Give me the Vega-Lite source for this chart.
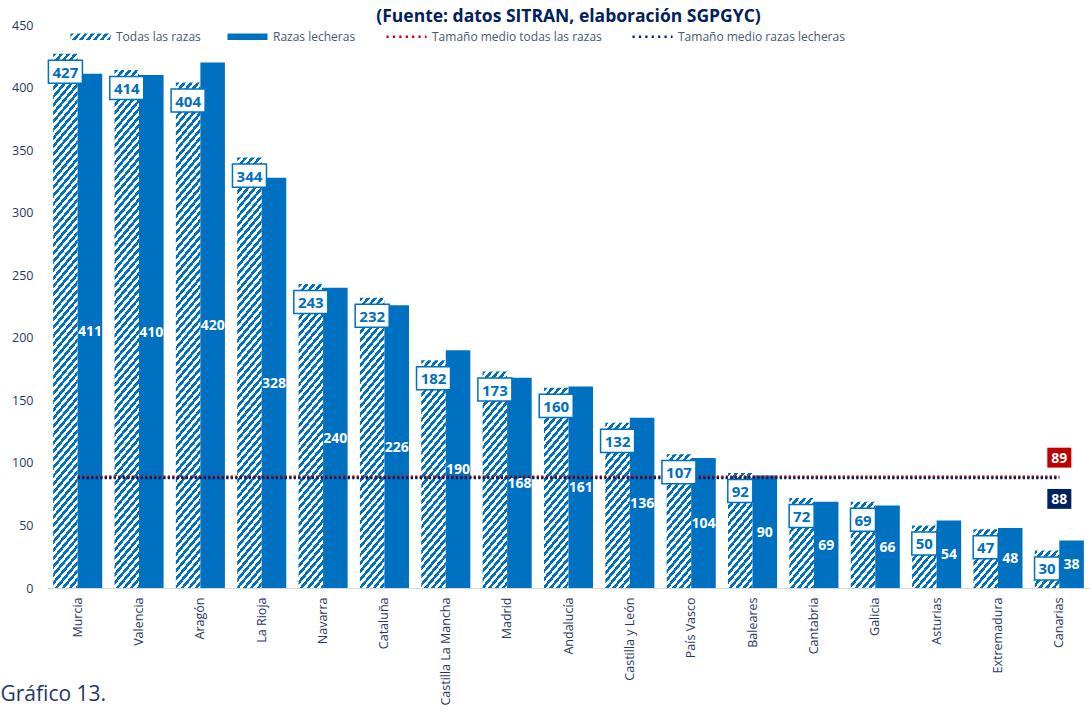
{
"$schema": "https://vega.github.io/schema/vega-lite/v6.json",
"width": 1043,
"height": 563,
"autosize": {"type": "none"},
"padding": {"left": 47, "top": 25, "right": 0, "bottom": 123},
"background": "white",
"config": {"view": {"stroke": null}, "font": "Open Sans", "axis": {"grid": false}},
"title": {"text": "(Fuente: datos SITRAN, elaboración SGPGYC)", "fontSize": 17.5, "fontWeight": "bold", "color": "#002060", "anchor": "middle", "frame": "group", "offset": -10},
"params": [{"name": "hatchStops", "value": [
{"offset":0,"color":"#0070C0"},
{"offset":0.00625,"color":"#0070C0"},{"offset":0.00625,"color":"#fff"},{"offset":0.0125,"color":"#fff"},{"offset":0.0125,"color":"#0070C0"},{"offset":0.01875,"color":"#0070C0"},{"offset":0.01875,"color":"#fff"},{"offset":0.025,"color":"#fff"},{"offset":0.025,"color":"#0070C0"},{"offset":0.03125,"color":"#0070C0"},{"offset":0.03125,"color":"#fff"},{"offset":0.0375,"color":"#fff"},{"offset":0.0375,"color":"#0070C0"},{"offset":0.04375,"color":"#0070C0"},{"offset":0.04375,"color":"#fff"},{"offset":0.05,"color":"#fff"},{"offset":0.05,"color":"#0070C0"},{"offset":0.05625,"color":"#0070C0"},{"offset":0.05625,"color":"#fff"},{"offset":0.0625,"color":"#fff"},{"offset":0.0625,"color":"#0070C0"},{"offset":0.06875,"color":"#0070C0"},{"offset":0.06875,"color":"#fff"},{"offset":0.075,"color":"#fff"},{"offset":0.075,"color":"#0070C0"},{"offset":0.08125,"color":"#0070C0"},{"offset":0.08125,"color":"#fff"},{"offset":0.0875,"color":"#fff"},{"offset":0.0875,"color":"#0070C0"},{"offset":0.09375,"color":"#0070C0"},{"offset":0.09375,"color":"#fff"},{"offset":0.1,"color":"#fff"},{"offset":0.1,"color":"#0070C0"},
{"offset":0.10625,"color":"#0070C0"},{"offset":0.10625,"color":"#fff"},{"offset":0.1125,"color":"#fff"},{"offset":0.1125,"color":"#0070C0"},{"offset":0.11875,"color":"#0070C0"},{"offset":0.11875,"color":"#fff"},{"offset":0.125,"color":"#fff"},{"offset":0.125,"color":"#0070C0"},{"offset":0.13125,"color":"#0070C0"},{"offset":0.13125,"color":"#fff"},{"offset":0.1375,"color":"#fff"},{"offset":0.1375,"color":"#0070C0"},{"offset":0.14375,"color":"#0070C0"},{"offset":0.14375,"color":"#fff"},{"offset":0.15,"color":"#fff"},{"offset":0.15,"color":"#0070C0"},{"offset":0.15625,"color":"#0070C0"},{"offset":0.15625,"color":"#fff"},{"offset":0.1625,"color":"#fff"},{"offset":0.1625,"color":"#0070C0"},{"offset":0.16875,"color":"#0070C0"},{"offset":0.16875,"color":"#fff"},{"offset":0.175,"color":"#fff"},{"offset":0.175,"color":"#0070C0"},{"offset":0.18125,"color":"#0070C0"},{"offset":0.18125,"color":"#fff"},{"offset":0.1875,"color":"#fff"},{"offset":0.1875,"color":"#0070C0"},{"offset":0.19375,"color":"#0070C0"},{"offset":0.19375,"color":"#fff"},{"offset":0.2,"color":"#fff"},{"offset":0.2,"color":"#0070C0"},
{"offset":0.20625,"color":"#0070C0"},{"offset":0.20625,"color":"#fff"},{"offset":0.2125,"color":"#fff"},{"offset":0.2125,"color":"#0070C0"},{"offset":0.21875,"color":"#0070C0"},{"offset":0.21875,"color":"#fff"},{"offset":0.225,"color":"#fff"},{"offset":0.225,"color":"#0070C0"},{"offset":0.23125,"color":"#0070C0"},{"offset":0.23125,"color":"#fff"},{"offset":0.2375,"color":"#fff"},{"offset":0.2375,"color":"#0070C0"},{"offset":0.24375,"color":"#0070C0"},{"offset":0.24375,"color":"#fff"},{"offset":0.25,"color":"#fff"},{"offset":0.25,"color":"#0070C0"},{"offset":0.25625,"color":"#0070C0"},{"offset":0.25625,"color":"#fff"},{"offset":0.2625,"color":"#fff"},{"offset":0.2625,"color":"#0070C0"},{"offset":0.26875,"color":"#0070C0"},{"offset":0.26875,"color":"#fff"},{"offset":0.275,"color":"#fff"},{"offset":0.275,"color":"#0070C0"},{"offset":0.28125,"color":"#0070C0"},{"offset":0.28125,"color":"#fff"},{"offset":0.2875,"color":"#fff"},{"offset":0.2875,"color":"#0070C0"},{"offset":0.29375,"color":"#0070C0"},{"offset":0.29375,"color":"#fff"},{"offset":0.3,"color":"#fff"},{"offset":0.3,"color":"#0070C0"},
{"offset":0.30625,"color":"#0070C0"},{"offset":0.30625,"color":"#fff"},{"offset":0.3125,"color":"#fff"},{"offset":0.3125,"color":"#0070C0"},{"offset":0.31875,"color":"#0070C0"},{"offset":0.31875,"color":"#fff"},{"offset":0.325,"color":"#fff"},{"offset":0.325,"color":"#0070C0"},{"offset":0.33125,"color":"#0070C0"},{"offset":0.33125,"color":"#fff"},{"offset":0.3375,"color":"#fff"},{"offset":0.3375,"color":"#0070C0"},{"offset":0.34375,"color":"#0070C0"},{"offset":0.34375,"color":"#fff"},{"offset":0.35,"color":"#fff"},{"offset":0.35,"color":"#0070C0"},{"offset":0.35625,"color":"#0070C0"},{"offset":0.35625,"color":"#fff"},{"offset":0.3625,"color":"#fff"},{"offset":0.3625,"color":"#0070C0"},{"offset":0.36875,"color":"#0070C0"},{"offset":0.36875,"color":"#fff"},{"offset":0.375,"color":"#fff"},{"offset":0.375,"color":"#0070C0"},{"offset":0.38125,"color":"#0070C0"},{"offset":0.38125,"color":"#fff"},{"offset":0.3875,"color":"#fff"},{"offset":0.3875,"color":"#0070C0"},{"offset":0.39375,"color":"#0070C0"},{"offset":0.39375,"color":"#fff"},{"offset":0.4,"color":"#fff"},{"offset":0.4,"color":"#0070C0"},
{"offset":0.40625,"color":"#0070C0"},{"offset":0.40625,"color":"#fff"},{"offset":0.4125,"color":"#fff"},{"offset":0.4125,"color":"#0070C0"},{"offset":0.41875,"color":"#0070C0"},{"offset":0.41875,"color":"#fff"},{"offset":0.425,"color":"#fff"},{"offset":0.425,"color":"#0070C0"},{"offset":0.43125,"color":"#0070C0"},{"offset":0.43125,"color":"#fff"},{"offset":0.4375,"color":"#fff"},{"offset":0.4375,"color":"#0070C0"},{"offset":0.44375,"color":"#0070C0"},{"offset":0.44375,"color":"#fff"},{"offset":0.45,"color":"#fff"},{"offset":0.45,"color":"#0070C0"},{"offset":0.45625,"color":"#0070C0"},{"offset":0.45625,"color":"#fff"},{"offset":0.4625,"color":"#fff"},{"offset":0.4625,"color":"#0070C0"},{"offset":0.46875,"color":"#0070C0"},{"offset":0.46875,"color":"#fff"},{"offset":0.475,"color":"#fff"},{"offset":0.475,"color":"#0070C0"},{"offset":0.48125,"color":"#0070C0"},{"offset":0.48125,"color":"#fff"},{"offset":0.4875,"color":"#fff"},{"offset":0.4875,"color":"#0070C0"},{"offset":0.49375,"color":"#0070C0"},{"offset":0.49375,"color":"#fff"},{"offset":0.5,"color":"#fff"},{"offset":0.5,"color":"#0070C0"},
{"offset":0.50625,"color":"#0070C0"},{"offset":0.50625,"color":"#fff"},{"offset":0.5125,"color":"#fff"},{"offset":0.5125,"color":"#0070C0"},{"offset":0.51875,"color":"#0070C0"},{"offset":0.51875,"color":"#fff"},{"offset":0.525,"color":"#fff"},{"offset":0.525,"color":"#0070C0"},{"offset":0.53125,"color":"#0070C0"},{"offset":0.53125,"color":"#fff"},{"offset":0.5375,"color":"#fff"},{"offset":0.5375,"color":"#0070C0"},{"offset":0.54375,"color":"#0070C0"},{"offset":0.54375,"color":"#fff"},{"offset":0.55,"color":"#fff"},{"offset":0.55,"color":"#0070C0"},{"offset":0.55625,"color":"#0070C0"},{"offset":0.55625,"color":"#fff"},{"offset":0.5625,"color":"#fff"},{"offset":0.5625,"color":"#0070C0"},{"offset":0.56875,"color":"#0070C0"},{"offset":0.56875,"color":"#fff"},{"offset":0.575,"color":"#fff"},{"offset":0.575,"color":"#0070C0"},{"offset":0.58125,"color":"#0070C0"},{"offset":0.58125,"color":"#fff"},{"offset":0.5875,"color":"#fff"},{"offset":0.5875,"color":"#0070C0"},{"offset":0.59375,"color":"#0070C0"},{"offset":0.59375,"color":"#fff"},{"offset":0.6,"color":"#fff"},{"offset":0.6,"color":"#0070C0"},
{"offset":0.60625,"color":"#0070C0"},{"offset":0.60625,"color":"#fff"},{"offset":0.6125,"color":"#fff"},{"offset":0.6125,"color":"#0070C0"},{"offset":0.61875,"color":"#0070C0"},{"offset":0.61875,"color":"#fff"},{"offset":0.625,"color":"#fff"},{"offset":0.625,"color":"#0070C0"},{"offset":0.63125,"color":"#0070C0"},{"offset":0.63125,"color":"#fff"},{"offset":0.6375,"color":"#fff"},{"offset":0.6375,"color":"#0070C0"},{"offset":0.64375,"color":"#0070C0"},{"offset":0.64375,"color":"#fff"},{"offset":0.65,"color":"#fff"},{"offset":0.65,"color":"#0070C0"},{"offset":0.65625,"color":"#0070C0"},{"offset":0.65625,"color":"#fff"},{"offset":0.6625,"color":"#fff"},{"offset":0.6625,"color":"#0070C0"},{"offset":0.66875,"color":"#0070C0"},{"offset":0.66875,"color":"#fff"},{"offset":0.675,"color":"#fff"},{"offset":0.675,"color":"#0070C0"},{"offset":0.68125,"color":"#0070C0"},{"offset":0.68125,"color":"#fff"},{"offset":0.6875,"color":"#fff"},{"offset":0.6875,"color":"#0070C0"},{"offset":0.69375,"color":"#0070C0"},{"offset":0.69375,"color":"#fff"},{"offset":0.7,"color":"#fff"},{"offset":0.7,"color":"#0070C0"},
{"offset":0.70625,"color":"#0070C0"},{"offset":0.70625,"color":"#fff"},{"offset":0.7125,"color":"#fff"},{"offset":0.7125,"color":"#0070C0"},{"offset":0.71875,"color":"#0070C0"},{"offset":0.71875,"color":"#fff"},{"offset":0.725,"color":"#fff"},{"offset":0.725,"color":"#0070C0"},{"offset":0.73125,"color":"#0070C0"},{"offset":0.73125,"color":"#fff"},{"offset":0.7375,"color":"#fff"},{"offset":0.7375,"color":"#0070C0"},{"offset":0.74375,"color":"#0070C0"},{"offset":0.74375,"color":"#fff"},{"offset":0.75,"color":"#fff"},{"offset":0.75,"color":"#0070C0"},{"offset":0.75625,"color":"#0070C0"},{"offset":0.75625,"color":"#fff"},{"offset":0.7625,"color":"#fff"},{"offset":0.7625,"color":"#0070C0"},{"offset":0.76875,"color":"#0070C0"},{"offset":0.76875,"color":"#fff"},{"offset":0.775,"color":"#fff"},{"offset":0.775,"color":"#0070C0"},{"offset":0.78125,"color":"#0070C0"},{"offset":0.78125,"color":"#fff"},{"offset":0.7875,"color":"#fff"},{"offset":0.7875,"color":"#0070C0"},{"offset":0.79375,"color":"#0070C0"},{"offset":0.79375,"color":"#fff"},{"offset":0.8,"color":"#fff"},{"offset":0.8,"color":"#0070C0"},
{"offset":0.80625,"color":"#0070C0"},{"offset":0.80625,"color":"#fff"},{"offset":0.8125,"color":"#fff"},{"offset":0.8125,"color":"#0070C0"},{"offset":0.81875,"color":"#0070C0"},{"offset":0.81875,"color":"#fff"},{"offset":0.825,"color":"#fff"},{"offset":0.825,"color":"#0070C0"},{"offset":0.83125,"color":"#0070C0"},{"offset":0.83125,"color":"#fff"},{"offset":0.8375,"color":"#fff"},{"offset":0.8375,"color":"#0070C0"},{"offset":0.84375,"color":"#0070C0"},{"offset":0.84375,"color":"#fff"},{"offset":0.85,"color":"#fff"},{"offset":0.85,"color":"#0070C0"},{"offset":0.85625,"color":"#0070C0"},{"offset":0.85625,"color":"#fff"},{"offset":0.8625,"color":"#fff"},{"offset":0.8625,"color":"#0070C0"},{"offset":0.86875,"color":"#0070C0"},{"offset":0.86875,"color":"#fff"},{"offset":0.875,"color":"#fff"},{"offset":0.875,"color":"#0070C0"},{"offset":0.88125,"color":"#0070C0"},{"offset":0.88125,"color":"#fff"},{"offset":0.8875,"color":"#fff"},{"offset":0.8875,"color":"#0070C0"},{"offset":0.89375,"color":"#0070C0"},{"offset":0.89375,"color":"#fff"},{"offset":0.9,"color":"#fff"},{"offset":0.9,"color":"#0070C0"},
{"offset":0.90625,"color":"#0070C0"},{"offset":0.90625,"color":"#fff"},{"offset":0.9125,"color":"#fff"},{"offset":0.9125,"color":"#0070C0"},{"offset":0.91875,"color":"#0070C0"},{"offset":0.91875,"color":"#fff"},{"offset":0.925,"color":"#fff"},{"offset":0.925,"color":"#0070C0"},{"offset":0.93125,"color":"#0070C0"},{"offset":0.93125,"color":"#fff"},{"offset":0.9375,"color":"#fff"},{"offset":0.9375,"color":"#0070C0"},{"offset":0.94375,"color":"#0070C0"},{"offset":0.94375,"color":"#fff"},{"offset":0.95,"color":"#fff"},{"offset":0.95,"color":"#0070C0"},{"offset":0.95625,"color":"#0070C0"},{"offset":0.95625,"color":"#fff"},{"offset":0.9625,"color":"#fff"},{"offset":0.9625,"color":"#0070C0"},{"offset":0.96875,"color":"#0070C0"},{"offset":0.96875,"color":"#fff"},{"offset":0.975,"color":"#fff"},{"offset":0.975,"color":"#0070C0"},{"offset":0.98125,"color":"#0070C0"},{"offset":0.98125,"color":"#fff"},{"offset":0.9875,"color":"#fff"},{"offset":0.9875,"color":"#0070C0"},{"offset":0.99375,"color":"#0070C0"},{"offset":0.99375,"color":"#fff"},{"offset":1,"color":"#fff"}
]}],
"datasets": {
"bars": [
{"region":"Murcia","serie":"Todas las razas","valor":427},{"region":"Murcia","serie":"Razas lecheras","valor":411},
{"region":"Valencia","serie":"Todas las razas","valor":414},{"region":"Valencia","serie":"Razas lecheras","valor":410},
{"region":"Aragón","serie":"Todas las razas","valor":404},{"region":"Aragón","serie":"Razas lecheras","valor":420},
{"region":"La Rioja","serie":"Todas las razas","valor":344},{"region":"La Rioja","serie":"Razas lecheras","valor":328},
{"region":"Navarra","serie":"Todas las razas","valor":243},{"region":"Navarra","serie":"Razas lecheras","valor":240},
{"region":"Cataluña","serie":"Todas las razas","valor":232},{"region":"Cataluña","serie":"Razas lecheras","valor":226},
{"region":"Castilla La Mancha","serie":"Todas las razas","valor":182},{"region":"Castilla La Mancha","serie":"Razas lecheras","valor":190},
{"region":"Madrid","serie":"Todas las razas","valor":173},{"region":"Madrid","serie":"Razas lecheras","valor":168},
{"region":"Andalucía","serie":"Todas las razas","valor":160},{"region":"Andalucía","serie":"Razas lecheras","valor":161},
{"region":"Castilla y León","serie":"Todas las razas","valor":132},{"region":"Castilla y León","serie":"Razas lecheras","valor":136},
{"region":"País Vasco","serie":"Todas las razas","valor":107},{"region":"País Vasco","serie":"Razas lecheras","valor":104},
{"region":"Baleares","serie":"Todas las razas","valor":92},{"region":"Baleares","serie":"Razas lecheras","valor":90},
{"region":"Cantabria","serie":"Todas las razas","valor":72},{"region":"Cantabria","serie":"Razas lecheras","valor":69},
{"region":"Galicia","serie":"Todas las razas","valor":69},{"region":"Galicia","serie":"Razas lecheras","valor":66},
{"region":"Asturias","serie":"Todas las razas","valor":50},{"region":"Asturias","serie":"Razas lecheras","valor":54},
{"region":"Extremadura","serie":"Todas las razas","valor":47},{"region":"Extremadura","serie":"Razas lecheras","valor":48},
{"region":"Canarias","serie":"Todas las razas","valor":30},{"region":"Canarias","serie":"Razas lecheras","valor":38}
],
"means": [
{"serie":"Tamaño medio todas las razas","valor":89},
{"serie":"Tamaño medio razas lecheras","valor":88}
]
},
"layer": [
{
"data": {"name": "bars"},
"mark": {"type": "bar"},
"encoding": {
"x": {"field": "region", "type": "nominal", "sort": null,
 "scale": {"domain": ["Murcia","Valencia","Aragón","La Rioja","Navarra","Cataluña","Castilla La Mancha","Madrid","Andalucía","Castilla y León","País Vasco","Baleares","Cantabria","Galicia","Asturias","Extremadura","Canarias"], "paddingInner": 0.2, "paddingOuter": 0.1},
 "axis": {"title": "Gráfico 13.", "titleAnchor": "start", "titleAlign": "left", "titleX": -47, "titleY": 112, "titleBaseline": "alphabetic", "titleFontSize": 21, "titleFontWeight": "normal", "titleColor": "#1F3864", "labelAngle": -90, "labelAlign": "right", "labelBaseline": "middle", "labelPadding": 9, "labelFontSize": 12.5, "labelColor": "#1F3864", "domainColor": "#D9D9D9", "domainWidth": 1, "ticks": false}},
"xOffset": {"field": "serie", "type": "nominal", "sort": null, "scale": {"domain": ["Todas las razas", "Razas lecheras"], "paddingInner": 0, "paddingOuter": 0}},
"y": {"field": "valor", "type": "quantitative", "scale": {"domain": [0, 450], "nice": false},
 "axis": {"title": null, "values": [0,50,100,150,200,250,300,350,400,450], "domain": false, "ticks": false, "labelPadding": 14, "labelFontSize": 12.5, "labelColor": "#1F3864"}},
"fill": {"value": {"expr": "datum.serie === 'Todas las razas' ? {gradient: 'linear', x1: 0, y1: 0, x2: bandwidth('xOffset') * 0.766 * 424 / (pow(bandwidth('xOffset') * 0.766, 2) + pow((scale('y', 0) - scale('y', datum.valor)) * 0.643, 2)), y2: (scale('y', 0) - scale('y', datum.valor)) * 0.643 * 424 / (pow(bandwidth('xOffset') * 0.766, 2) + pow((scale('y', 0) - scale('y', datum.valor)) * 0.643, 2)), stops: hatchStops} : '#0070C0'"}}
}
},
{
"data": {"name": "means"},
"mark": {"type": "rule", "strokeDash": [2.3, 2.2], "strokeWidth": 2.5},
"encoding": {
"x": {"datum": "Murcia"},
"x2": {"datum": "Canarias"},
"y": {"field": "valor", "type": "quantitative"},
"color": {"field": "serie", "type": "nominal",
 "scale": {"domain": ["Todas las razas", "Razas lecheras", "Tamaño medio todas las razas", "Tamaño medio razas lecheras"], "range": ["#0070C0", "#0070C0", "#C00000", "#002060"]},
 "legend": {"orient": "none", "legendX": 22, "legendY": -10, "direction": "horizontal", "title": null, "padding": 0, "columnPadding": 25, "labelFontSize": 12, "labelLimit": 400, "labelColor": "#3F5A72", "labelOffset": 4, "symbolSize": 1600, "symbolStrokeWidth": 2.5,
  "encode": {"symbols": {"update": {
   "shape": {"signal": "indexof(datum.value, 'Tama') === 0 ? 'stroke' : 'M-1,-0.16H1V0.16H-1Z'"},
   "fill": {"signal": "datum.value === 'Todas las razas' ? {gradient: 'linear', x1: 0, y1: 0, x2: 13.6, y2: 1.83, stops: hatchStops} : (datum.value === 'Razas lecheras' ? '#0070C0' : 'transparent')"},
   "stroke": {"signal": "datum.value === 'Tamaño medio todas las razas' ? '#C00000' : (datum.value === 'Tamaño medio razas lecheras' ? '#002060' : 'transparent')"},
   "strokeOpacity": {"signal": "indexof(datum.value, 'Tama') === 0 ? 1 : 0"},
   "strokeDash": {"value": [2.2, 4.2]},
   "opacity": {"value": 1}
  }}}}
}
}
},
{
"data": {"name": "bars"},
"transform": [{"filter": "datum.serie === 'Todas las razas'"}],
"mark": {"type": "point", "filled": true, "fill": "white", "stroke": "#0070C0", "strokeWidth": 1.5, "opacity": 1, "yOffset": 18},
"encoding": {
"x": {"field": "region", "type": "nominal", "sort": null},
"xOffset": {"field": "serie", "type": "nominal", "sort": null},
"y": {"field": "valor", "type": "quantitative"},
"shape": {"condition": {"test": "datum.valor >= 100", "value": "M-1,-0.68H1V0.68H-1Z"}, "value": "M-1,-0.92H1V0.92H-1Z"},
"size": {"condition": {"test": "datum.valor >= 100", "value": 1156}, "value": 625}
}
},
{
"data": {"name": "bars"},
"transform": [{"filter": "datum.serie === 'Todas las razas'"}],
"mark": {"type": "text", "fontWeight": "bold", "fontSize": 15, "color": "#0070C0", "baseline": "middle", "yOffset": 19},
"encoding": {
"x": {"field": "region", "type": "nominal", "sort": null},
"xOffset": {"field": "serie", "type": "nominal", "sort": null},
"y": {"field": "valor", "type": "quantitative"},
"text": {"field": "valor", "type": "quantitative"}
}
},
{
"data": {"name": "bars"},
"transform": [{"filter": "datum.serie === 'Razas lecheras'"}, {"calculate": "datum.valor / 2", "as": "mitad"}],
"mark": {"type": "text", "fontWeight": "bold", "fontSize": 14, "color": "white", "baseline": "middle", "yOffset": 1},
"encoding": {
"x": {"field": "region", "type": "nominal", "sort": null},
"xOffset": {"field": "serie", "type": "nominal", "sort": null},
"y": {"field": "mitad", "type": "quantitative"},
"text": {"field": "valor", "type": "quantitative"}
}
},
{
"data": {"name": "means"},
"transform": [{"filter": "datum.serie === 'Tamaño medio todas las razas'"}],
"mark": {"type": "point", "filled": true, "fill": "#C00000", "stroke": null, "opacity": 1, "yOffset": -19, "shape": "M-1,-0.83H1V0.83H-1Z", "size": 576},
"encoding": {"x": {"datum": "Canarias"}, "y": {"field": "valor", "type": "quantitative"}}
},
{
"data": {"name": "means"},
"transform": [{"filter": "datum.serie === 'Tamaño medio todas las razas'"}],
"mark": {"type": "text", "fontWeight": "bold", "fontSize": 14, "color": "white", "baseline": "middle", "yOffset": -18},
"encoding": {"x": {"datum": "Canarias"}, "y": {"field": "valor", "type": "quantitative"}, "text": {"field": "valor", "type": "quantitative"}}
},
{
"data": {"name": "means"},
"transform": [{"filter": "datum.serie === 'Tamaño medio razas lecheras'"}],
"mark": {"type": "point", "filled": true, "fill": "#002060", "stroke": null, "opacity": 1, "yOffset": 21, "shape": "M-1,-0.83H1V0.83H-1Z", "size": 576},
"encoding": {"x": {"datum": "Canarias"}, "y": {"field": "valor", "type": "quantitative"}}
},
{
"data": {"name": "means"},
"transform": [{"filter": "datum.serie === 'Tamaño medio razas lecheras'"}],
"mark": {"type": "text", "fontWeight": "bold", "fontSize": 14, "color": "white", "baseline": "middle", "yOffset": 22},
"encoding": {"x": {"datum": "Canarias"}, "y": {"field": "valor", "type": "quantitative"}, "text": {"field": "valor", "type": "quantitative"}}
}
]
}
